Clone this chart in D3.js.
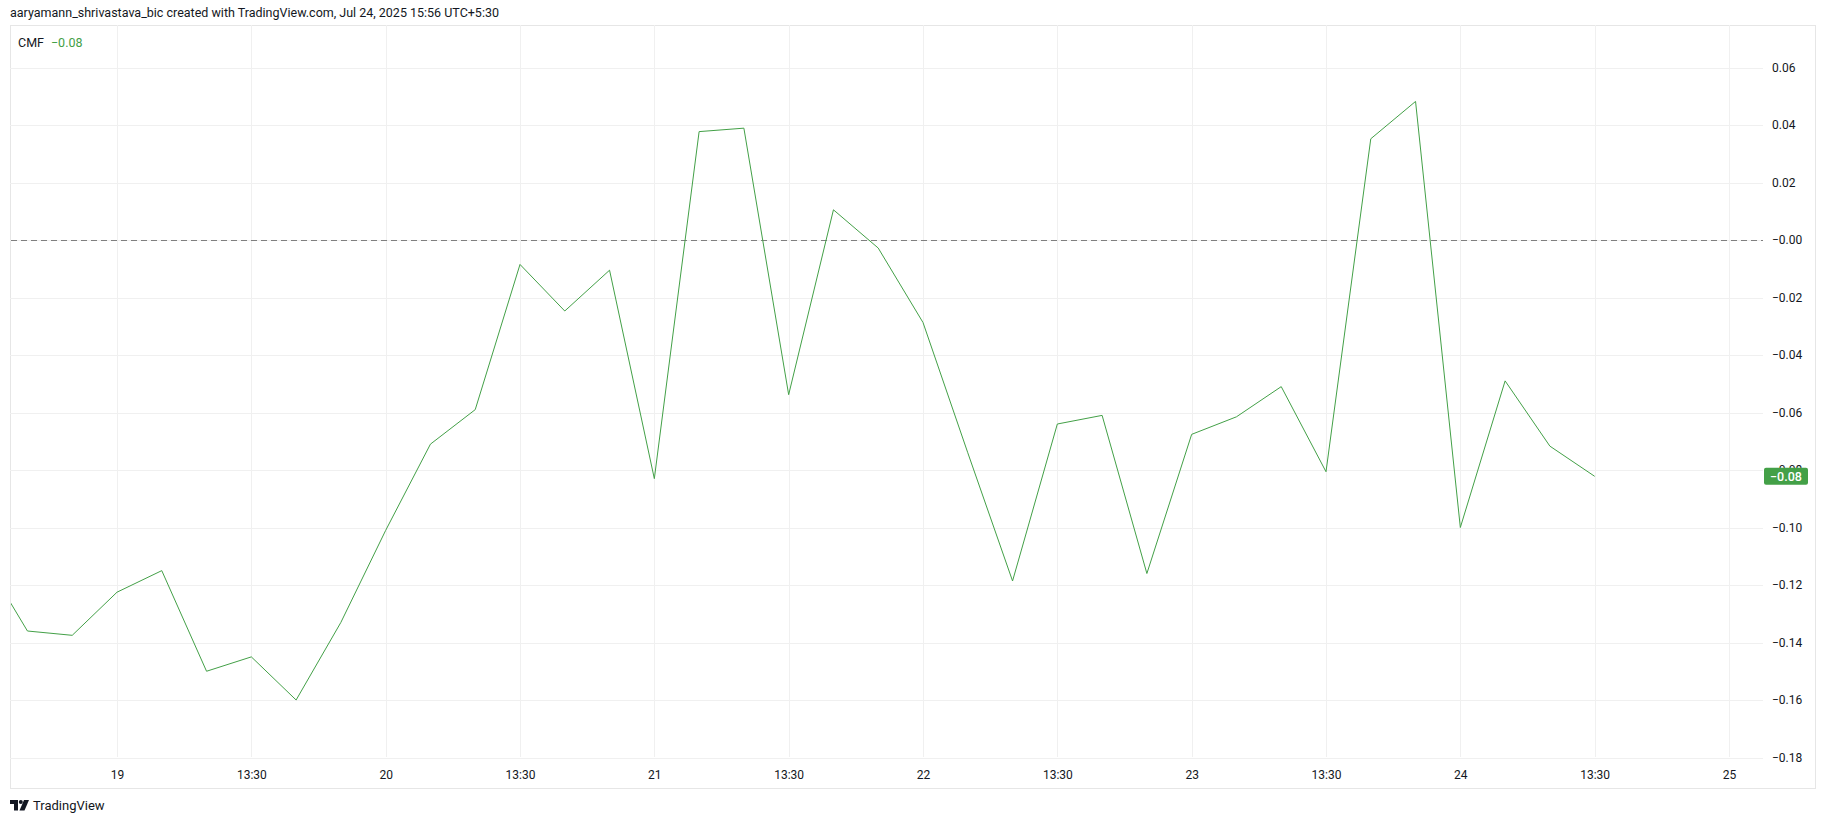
<!DOCTYPE html>
<html>
<head>
<meta charset="utf-8">
<script src="https://cdn.jsdelivr.net/npm/d3@7"></script>
<style>
  html, body { margin: 0; padding: 0; background: #ffffff; }
  svg { display: block; }
  text { font-family: Roboto, "Noto Sans", sans-serif; }
</style>
</head>
<body>
<svg id="chart" width="1825" height="824"></svg>
<script>
// ---- DATA ----
// bar index (first entry is index -1, partly outside the visible range)
const pointIndex = d3.range(-1, 36);
// Chaikin Money Flow values
const cmfValues = [
  -0.110, -0.136, -0.1375, -0.1225, -0.115, -0.150, -0.145, -0.160, -0.133, -0.101,
  -0.071, -0.059, -0.0085, -0.0247, -0.0105, -0.083, 0.0377, 0.0389, -0.0538, 0.0105,
  -0.0028, -0.0287, -0.074, -0.1186, -0.064, -0.061, -0.116, -0.0676, -0.0615, -0.051,
  -0.0806, 0.0352, 0.0482, -0.100, -0.049, -0.0717, -0.0822
];
const timeTickIndex  = [2, 5, 8, 11, 14, 17, 20, 23, 26, 29, 32, 35, 38];
const timeTickLabels = ["19", "13:30", "20", "13:30", "21", "13:30", "22", "13:30", "23", "13:30", "24", "13:30", "25"];
const priceTicks      = [0.06, 0.04, 0.02, 0.00, -0.02, -0.04, -0.06, -0.08, -0.10, -0.12, -0.14, -0.16, -0.18];
const priceTickLabels = ["0.06", "0.04", "0.02", "\u22120.00", "\u22120.02", "\u22120.04", "\u22120.06", "\u22120.08", "\u22120.10", "\u22120.12", "\u22120.14", "\u22120.16", "\u22120.18"];
const headerText = "aaryamann_shrivastava_bic created with TradingView.com, Jul 24, 2025 15:56 UTC+5:30";
const indicatorName = "CMF";
const lastValueLabel = "\u22120.08";

// ---- LAYOUT ----
const frame = { left: 10, top: 25, right: 1815, bottom: 788 };
const plot = { left: 10, right: 1763, top: 25, bottom: 759 };
const lineColor = "#43a047";
const gridColor = "#f0f0f0";
const textColor = "#131722";

const svg = d3.select("#chart");

const x = d3.scaleLinear().domain([2, 38]).range([117, 1729]);
const y = d3.scaleLinear().domain([-0.18, 0.06]).range([757.5, 67.5]);

// frame
svg.append("rect")
  .attr("x", frame.left + 0.5).attr("y", frame.top + 0.5)
  .attr("width", frame.right - frame.left).attr("height", frame.bottom - frame.top)
  .attr("fill", "none").attr("stroke", "#e6e6e6").attr("stroke-width", 1);

// horizontal grid
const yAxis = d3.axisRight(y).tickValues(priceTicks)
  .tickSize(-(plot.right - plot.left))
  .tickFormat((d, i) => priceTickLabels[i]);
const gy = svg.append("g").attr("transform", `translate(${plot.right},0)`).call(yAxis);
gy.select(".domain").remove();
gy.selectAll(".tick line").attr("stroke", gridColor).attr("shape-rendering", "crispEdges");
gy.selectAll(".tick text").attr("x", 9).attr("fill", textColor)
  .attr("font-size", 12).attr("text-anchor", "start")
  .style("font-family", "Roboto, sans-serif");

// vertical grid + time labels
const xAxis = d3.axisBottom(x).tickValues(timeTickIndex)
  .tickSize(-(plot.bottom - 2 - plot.top))
  .tickFormat((d, i) => timeTickLabels[i]);
const gx = svg.append("g").attr("transform", `translate(0,${plot.bottom - 2})`).call(xAxis);
gx.select(".domain").remove();
gx.selectAll(".tick line").attr("stroke", gridColor).attr("shape-rendering", "crispEdges");
gx.selectAll(".tick text").attr("y", 13).attr("fill", textColor)
  .attr("font-size", 12).style("font-family", "Roboto, sans-serif");

// clip for plot area
svg.append("clipPath").attr("id", "plotClip").append("rect")
  .attr("x", plot.left + 1).attr("y", plot.top + 1)
  .attr("width", plot.right - plot.left - 1).attr("height", plot.bottom - plot.top - 1);

// zero dashed line
svg.append("line")
  .attr("x1", plot.left + 1).attr("x2", plot.right)
  .attr("y1", Math.round(y(0)) + 0.5).attr("y2", Math.round(y(0)) + 0.5)
  .attr("stroke", "#7f7f7f").attr("stroke-width", 1).attr("stroke-dasharray", "6,4");

// CMF line
const line = d3.line().x((d, i) => x(pointIndex[i])).y(d => y(d));
svg.append("path").datum(cmfValues)
  .attr("clip-path", "url(#plotClip)")
  .attr("d", line)
  .attr("fill", "none").attr("stroke", lineColor).attr("stroke-width", 1)
  .attr("stroke-linejoin", "miter");

// last value label
const lastV = cmfValues[cmfValues.length - 1];
const ly = y(lastV);
svg.append("rect").attr("x", plot.right + 1).attr("y", ly - 8.5)
  .attr("width", 44).attr("height", 17).attr("rx", 2).attr("fill", lineColor);
svg.append("text").attr("x", plot.right + 1 + 22).attr("y", ly + 4.5)
  .attr("text-anchor", "middle").attr("fill", "#ffffff")
  .attr("font-size", 12.5).attr("font-weight", 500).text(lastValueLabel);

// header
svg.append("text").attr("x", 10).attr("y", 17).attr("fill", textColor)
  .attr("font-size", 12.5).text(headerText);

// legend
const leg = svg.append("text").attr("x", 18).attr("y", 47).attr("font-size", 12.5);
leg.append("tspan").attr("fill", textColor).text(indicatorName);
leg.append("tspan").attr("dx", 7).attr("fill", lineColor).text(lastValueLabel);

// TradingView logo
const logo = svg.append("g").attr("transform", "translate(10,800)");
logo.append("path").attr("d", "M0 0 H8 V10.5 H4 V4 H0 Z").attr("fill", textColor);
logo.append("circle").attr("cx", 10.8).attr("cy", 2).attr("r", 2).attr("fill", textColor);
logo.append("path").attr("d", "M14 0 H19 L14.5 10.5 H9.5 Z").attr("fill", textColor);
svg.append("text").attr("x", 33).attr("y", 810).attr("fill", textColor)
  .attr("font-size", 13).text("TradingView");
</script>
</body>
</html>
